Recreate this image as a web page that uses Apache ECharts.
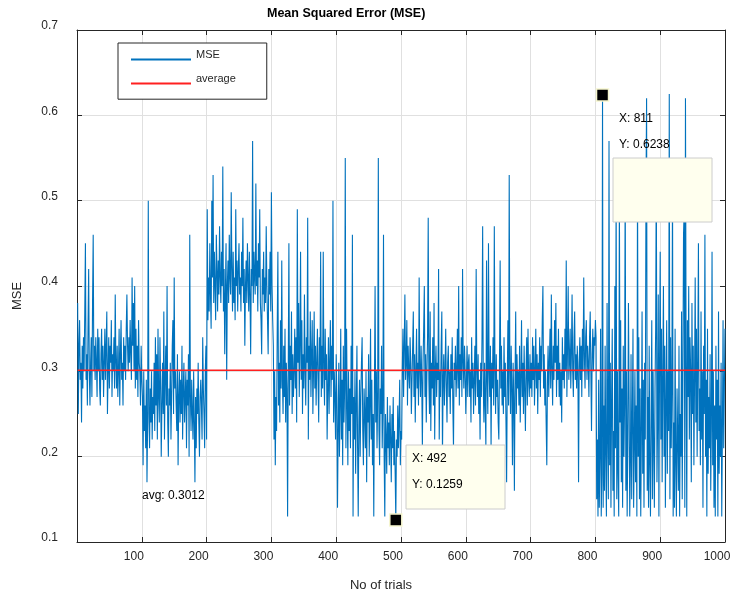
<!DOCTYPE html>
<html>
<head>
<meta charset="utf-8">
<script src="https://cdn.jsdelivr.net/npm/echarts@6/dist/echarts.min.js"></script>
<style>
html,body{margin:0;padding:0;background:#fff;}
#chart{width:731px;height:598px;}
</style>
</head>
<body>
<div id="chart"></div>
<script>
// ---- data ----
const mse = [
 .38,.25,.33,.36,.29,.31,.24,.33,.28,.34,.30,.37,.45,.29,.32,.26,.35,.42,.30,.26,
 .31,.34,.27,.38,.46,.30,.33,.29,.34,.31,.27,.35,.30,.34,.28,.26,.32,.35,.29,.33,
 .27,.31,.35,.29,.33,.37,.25,.30,.34,.28,.33,.31,.36,.27,.32,.30,.34,.28,.39,.31,
 .28,.33,.27,.30,.35,.26,.32,.36,.29,.31,.26,.34,.30,.33,.29,.35,.39,.33,.30,.34,
 .31,.36,.32,.29,.41,.33,.38,.30,.40,.28,.35,.29,.33,.27,.36,.31,.30,.26,.33,.29,
 .27,.19,.30,.23,.26,.21,.29,.17,.24,.50,.25,.21,.28,.24,.30,.22,.27,.25,.31,.23,
 .34,.26,.32,.22,.35,.27,.24,.34,.29,.20,.26,.31,.25,.37,.22,.29,.33,.26,.40,.24,
 .20,.28,.26,.31,.22,.27,.33,.36,.25,.41,.28,.30,.26,.23,.32,.19,.27,.30,.24,.29,
 .25,.33,.22,.28,.31,.24,.27,.30,.21,.29,.26,.32,.20,.46,.27,.23,.29,.25,.22,.30,
 .24,.17,.27,.21,.28,.25,.31,.24,.20,.27,.29,.26,.22,.34,.28,.25,.21,.30,.33,.22,
 .49,.36,.41,.37,.45,.39,.35,.50,.41,.53,.38,.44,.40,.36,.46,.42,.37,.43,.39,.47,
 .41,.38,.44,.40,.54,.37,.42,.32,.39,.45,.29,.40,.43,.38,.46,.41,.39,.51,.42,.37,
 .44,.38,.41,.36,.49,.40,.43,.37,.42,.45,.39,.41,.37,.44,.40,.48,.38,.42,.33,.40,
 .43,.38,.45,.41,.37,.44,.39,.32,.42,.40,.57,.38,.44,.41,.39,.52,.40,.43,.37,.45,
 .41,.49,.38,.36,.32,.42,.39,.44,.37,.41,.38,.47,.40,.36,.32,.42,.39,.44,.37,.51,
 .40,.36,.33,.22,.30,.19,.27,.23,.35,.44,.26,.31,.24,.36,.28,.43,.29,.25,.33,.27,
 .35,.24,.31,.28,.13,.30,.45,.26,.33,.29,.37,.25,.32,.27,.30,.35,.28,.34,.24,.49,
 .31,.38,.27,.33,.44,.29,.36,.25,.32,.28,.39,.30,.26,.34,.31,.48,.22,.33,.29,.37,
 .27,.32,.36,.25,.30,.37,.28,.33,.26,.31,.35,.29,.24,.34,.30,.44,.27,.33,.28,.44,
 .30,.26,.35,.29,.32,.22,.28,.34,.25,.31,.36,.27,.33,.29,.50,.24,.30,.27,.22,.32,
 .27,.14,.23,.31,.20,.26,.35,.22,.29,.19,.33,.24,.28,.55,.21,.35,.26,.19,.30,.23,
 .28,.21,.33,.25,.46,.13,.27,.22,.30,.18,.26,.33,.21,.13,.24,.29,.20,.27,.31,.34,
 .23,.19,.28,.25,.21,.30,.17,.27,.24,.32,.20,.26,.35,.22,.29,.19,.25,.13,.28,.40,
 .24,.30,.21,.27,.55,.23,.19,.28,.25,.33,.21,.26,.46,.20,.13,.25,.22,.18,.27,.21,
 .24,.19,.26,.22,.17,.25,.21,.27,.19,.23,.18,.1259,.22,.20,.26,.21,.24,.29,.19,.23,
 .22,.30,.35,.27,.33,.39,.29,.31,.36,.26,.33,.30,.28,.34,.31,.25,.29,.33,.37,.27,
 .32,.24,.30,.35,.28,.31,.26,.41,.30,.27,.33,.29,.21,.31,.35,.40,.27,.32,.24,.30,
 .34,.48,.29,.25,.37,.23,.31,.28,.34,.26,.38,.22,.30,.33,.27,.31,.29,.42,.22,.30,
 .27,.33,.37,.20,.29,.32,.26,.30,.35,.28,.24,.31,.33,.27,.30,.25,.32,.28,.34,.26,
 .21,.31,.29,.33,.27,.30,.35,.28,.40,.26,.32,.29,.34,.27,.42,.31,.28,.33,.30,.25,
 .29,.33,.27,.31,.32,.27,.30,.24,.34,.28,.31,.25,.29,.33,.26,.42,.30,.27,.32,.25,
 .29,.22,.31,.27,.34,.47,.28,.24,.31,.26,.21,.43,.29,.25,.45,.30,.27,.33,.21,.31,
 .28,.34,.26,.47,.30,.25,.32,.27,.29,.24,.22,.31,.43,.28,.33,.26,.30,.25,.34,.27,
 .31,.24,.17,.29,.36,.26,.53,.30,.25,.33,.28,.19,.31,.27,.16,.29,.37,.25,.32,.28,
 .30,.26,.33,.24,.29,.36,.27,.31,.25,.33,.28,.23,.30,.34,.26,.35,.29,.27,.32,.28,
 .31,.27,.34,.29,.33,.26,.30,.35,.28,.32,.25,.31,.29,.34,.27,.33,.30,.36,.40,.28,
 .32,.26,.30,.24,.19,.29,.33,.27,.31,.35,.28,.39,.30,.26,.33,.29,.36,.31,.38,.27,
 .33,.29,.35,.27,.31,.26,.30,.24,.34,.29,.32,.28,.35,.30,.43,.27,.33,.40,.29,.31,
 .35,.28,.32,.39,.30,.27,.34,.37,.29,.32,.28,.33,.30,.17,.31,.34,.29,.33,.27,.35,
 .30,.41,.32,.28,.34,.36,.29,.33,.31,.27,.34,.37,.30,.23,.32,.35,.30,.34,.33,.36,
 .34,.15,.22,.13,.29,.14,.20,.35,.13,.18,.6238,.14,.26,.16,.33,.20,.13,.38,.22,.15,
 .57,.19,.31,.14,.27,.35,.16,.23,.13,.40,.21,.52,.15,.30,.18,.13,.51,.24,.36,.17,
 .28,.14,.33,.20,.26,.54,.16,.30,.13,.22,.38,.27,.13,.19,.32,.15,.24,.35,.14,.21,
 .30,.17,.26,.13,.53,.20,.34,.15,.28,.13,.23,.37,.18,.29,.14,.31,.22,.50,.62,.16,
 .27,.14,.33,.19,.13,.25,.36,.15,.30,.21,.14,.28,.35,.55,.17,.24,.39,.13,.31,.44,
 .22,.35,.17,.29,.40,.20,.33,.14,.26,.36,.18,.30,.23,.625,.15,.34,.21,.28,.52,.13,
 .24,.14,.35,.19,.13,.28,.22,.16,.33,.13,.25,.20,.37,.15,.29,.46,.49,.14,.62,.31,
 .13,.36,.27,.40,.22,.34,.30,.17,.38,.25,.33,.19,.29,.41,.24,.35,.20,.31,.45,.23,
 .28,.19,.37,.22,.30,.14,.33,.25,.46,.20,.29,.13,.35,.18,.27,.21,.32,.16,.24,.44,
 .19,.30,.14,.26,.13,.33,.22,.29,.13,.37,.18,.26,.20,.31,.13,.23,.36,.21,.28,.35
];
const avgValue = 0.3012;
const xTicks = [0, 100, 200, 300, 400, 500, 600, 700, 800, 900, 1000];
const yTicks = [0.1, 0.2, 0.3, 0.4, 0.5, 0.6, 0.7];
const tipX = [811, 492];
const tipY = [0.6238, 0.1259];
const seriesNames = ['MSE', 'average'];

// ---- build ----
const trials = mse.map((v, i) => i + 1);
const mseData = mse.map((v, i) => [trials[i], v]);
const avgData = [[trials[0], avgValue], [trials[trials.length - 1], avgValue]];

const FONT = 'Liberation Sans, Arial, Helvetica, sans-serif';
const AX = '#262626';
const GRID = '#e0e0e0';

const chart = echarts.init(document.getElementById('chart'), null, {renderer: 'canvas'});

const baseX = {
  type: 'value', min: xTicks[0], max: xTicks[xTicks.length - 1], interval: 100
};
const baseY = {
  type: 'value', min: yTicks[0], max: yTicks[yTicks.length - 1], interval: 0.1
};

chart.setOption({
  animation: false,
  backgroundColor: '#ffffff',
  title: {
    text: 'Mean Squared Error (MSE)',
    left: 267, top: 7, padding: 0,
    textStyle: {fontFamily: FONT, fontSize: 12.5, fontWeight: 'bold', color: '#000'}
  },
  legend: {
    data: seriesNames,
    orient: 'vertical',
    left: 118, top: 43,
    padding: [6, 31, 6, 12],
    itemWidth: 60, itemHeight: 24, itemGap: 4,
    borderColor: AX, borderWidth: 1, borderRadius: 0,
    backgroundColor: '#fff',
    selectedMode: false,
    itemStyle: {opacity: 0, borderWidth: 0},
    formatter: '{t|{name}}',
    textStyle: {
      fontFamily: FONT, fontSize: 11, color: AX,
      rich: {t: {fontFamily: FONT, fontSize: 11, color: AX, padding: [0, 0, 10, 0]}}
    }
  },
  grid: {left: 77, top: 30, width: 648, height: 512, containLabel: false, outerBoundsMode: 'none'},
  xAxis: [
    Object.assign({}, baseX, {
      position: 'bottom',
      name: 'No of trials', nameLocation: 'middle', nameGap: 37,
      nameTextStyle: {fontFamily: FONT, fontSize: 13, color: AX, padding: [0, 40, 0, 0]},
      axisLine: {show: true, onZero: false, lineStyle: {color: AX, width: 1}},
      axisTick: {show: true, inside: true, length: 5, lineStyle: {color: AX}},
      axisLabel: {show: true, showMinLabel: false, margin: 9, fontFamily: FONT, fontSize: 12, color: AX,
        padding: [0, 16, 0, 0], formatter: v => String(v)},
      splitLine: {show: true, lineStyle: {color: GRID, width: 1}}
    }),
    Object.assign({}, baseX, {
      position: 'top',
      axisLine: {show: true, onZero: false, lineStyle: {color: AX, width: 1}},
      axisTick: {show: true, inside: true, length: 5, lineStyle: {color: AX}},
      axisLabel: {show: false},
      splitLine: {show: false}
    })
  ],
  yAxis: [
    Object.assign({}, baseY, {
      position: 'left',
      name: 'MSE', nameLocation: 'middle', nameGap: 53,
      nameTextStyle: {fontFamily: FONT, fontSize: 13, color: AX, padding: [0, 20, 0, 0]},
      axisLine: {show: true, onZero: false, lineStyle: {color: AX, width: 1}},
      axisTick: {show: true, inside: true, length: 5, lineStyle: {color: AX}},
      axisLabel: {show: true, margin: 19, fontFamily: FONT, fontSize: 12, color: AX,
        verticalAlign: 'bottom', lineHeight: 8, formatter: v => v.toFixed(1)},
      splitLine: {show: true, lineStyle: {color: GRID, width: 1}}
    }),
    Object.assign({}, baseY, {
      position: 'right',
      axisLine: {show: true, onZero: false, lineStyle: {color: AX, width: 1}},
      axisTick: {show: true, inside: true, length: 5, lineStyle: {color: AX}},
      axisLabel: {show: false},
      splitLine: {show: false}
    })
  ],
  series: [
    {
      name: seriesNames[0], type: 'line', data: mseData,
      xAxisIndex: 0, yAxisIndex: 0,
      symbol: 'none', showSymbol: false, sampling: null,
      lineStyle: {color: '#0072BD', width: 1.1},
      itemStyle: {color: '#0072BD'},
      silent: true, z: 2,
      markPoint: {
        symbol: 'rect', symbolSize: 12, silent: true,
        itemStyle: {color: '#000', borderColor: '#f7f7cf', borderWidth: 1.5},
        label: {show: false},
        data: tipX.map((x, i) => ({coord: [x, tipY[i]]}))
      }
    },
    {
      name: seriesNames[1], type: 'line', data: avgData,
      xAxisIndex: 0, yAxisIndex: 0,
      symbol: 'none', showSymbol: false,
      lineStyle: {color: '#ff2020', width: 1.4},
      itemStyle: {color: '#ff2020'},
      silent: true, z: 3
    }
  ],
  graphic: [
    {type: 'rect', z: 100, shape: {x: 613, y: 158, width: 99, height: 64},
     style: {fill: '#ffffee', stroke: '#cccccc', lineWidth: 1}},
    {type: 'text', z: 101, x: 619, y: 119,
     style: {text: 'X: ' + tipX[0], font: '12px ' + FONT, fill: '#000', verticalAlign: 'middle'}},
    {type: 'text', z: 101, x: 619, y: 145,
     style: {text: 'Y: ' + tipY[0].toFixed(4), font: '12px ' + FONT, fill: '#000', verticalAlign: 'middle'}},
    {type: 'rect', z: 100, shape: {x: 406, y: 445, width: 99, height: 64},
     style: {fill: '#ffffee', stroke: '#cccccc', lineWidth: 1}},
    {type: 'text', z: 101, x: 412, y: 459,
     style: {text: 'X: ' + tipX[1], font: '12px ' + FONT, fill: '#000', verticalAlign: 'middle'}},
    {type: 'text', z: 101, x: 412, y: 485,
     style: {text: 'Y: ' + tipY[1].toFixed(4), font: '12px ' + FONT, fill: '#000', verticalAlign: 'middle'}},
    {type: 'text', z: 101, x: 142, y: 496,
     style: {text: 'avg: ' + avgValue.toFixed(4), font: '12px ' + FONT, fill: '#000', verticalAlign: 'middle'}}
  ]
});
</script>
</body>
</html>
